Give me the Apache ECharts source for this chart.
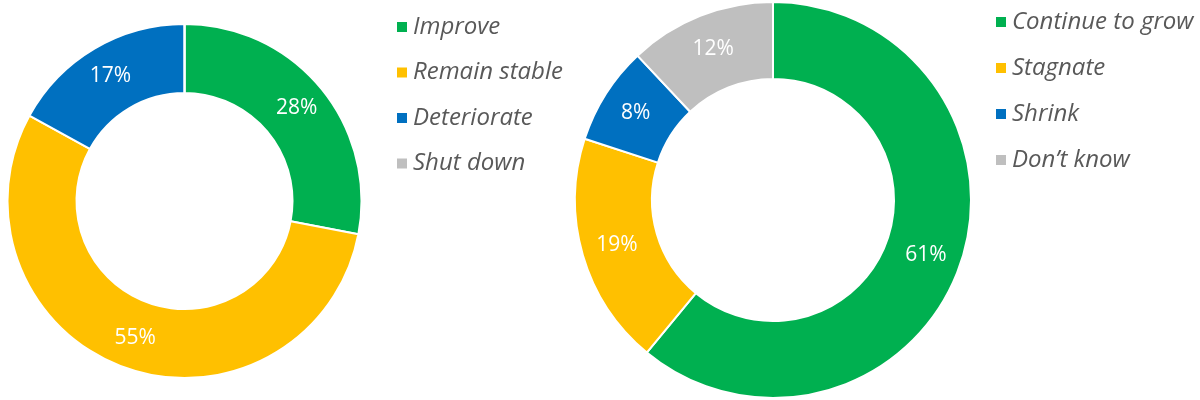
<!DOCTYPE html>
<html>
<head>
<meta charset="utf-8">
<script src="https://cdn.jsdelivr.net/npm/echarts@6/dist/echarts.min.js"></script>
<style>
html,body{margin:0;padding:0;background:#fff;}
#chart{width:1200px;height:400px;}
</style>
</head>
<body>
<div id="chart"></div>
<script>
var leftCategories = ['Improve', 'Remain stable', 'Deteriorate', 'Shut down'];
var leftValues = [28, 55, 17, 0];
var rightCategories = ['Continue to grow', 'Stagnate', 'Shrink', 'Don\u2019t know'];
var rightValues = [61, 19, 8, 12];
var sliceColors = ['#00B050', '#FFC000', '#0070C0', '#BFBFBF'];

var FONT = '"Open Sans", "Noto Sans", sans-serif';

function buildData(cats, vals) {
  return cats.map(function (c, i) {
    var d = { name: c, value: vals[i], itemStyle: { color: sliceColors[i] } };
    if (vals[i] === 0) d.label = { show: false };
    return d;
  });
}

var chart = echarts.init(document.getElementById('chart'), null, { renderer: 'canvas' });

var legendText = { color: '#595959', fontSize: 24, fontStyle: 'italic', fontFamily: FONT, lineHeight: 24 };

chart.setOption({
  animation: false,
  backgroundColor: '#ffffff',
  legend: [
    {
      orient: 'vertical', left: 390, top: 10,
      itemWidth: 12, itemHeight: 12, itemGap: 21.5, icon: 'rect',
      data: leftCategories, textStyle: legendText, selectedMode: false
    },
    {
      orient: 'vertical', left: 989, top: 5,
      itemWidth: 12, itemHeight: 12, itemGap: 22, icon: 'rect',
      data: rightCategories, textStyle: legendText, selectedMode: false
    }
  ],
  series: [
    {
      type: 'pie',
      center: [184.5, 201],
      radius: [108, 177],
      startAngle: 90,
      clockwise: true,
      avoidLabelOverlap: false,
      silent: true,
      itemStyle: { borderColor: '#ffffff', borderWidth: 2 },
      label: { show: true, position: 'inside', formatter: '{c}%', color: '#ffffff', fontSize: 21, fontFamily: FONT },
      labelLine: { show: false },
      data: buildData(leftCategories, leftValues)
    },
    {
      type: 'pie',
      center: [773, 200],
      radius: [121, 198],
      startAngle: 90,
      clockwise: true,
      avoidLabelOverlap: false,
      silent: true,
      itemStyle: { borderColor: '#ffffff', borderWidth: 2 },
      label: { show: true, position: 'inside', formatter: '{c}%', color: '#ffffff', fontSize: 21, fontFamily: FONT },
      labelLine: { show: false },
      data: buildData(rightCategories, rightValues)
    }
  ]
});
</script>
</body>
</html>
